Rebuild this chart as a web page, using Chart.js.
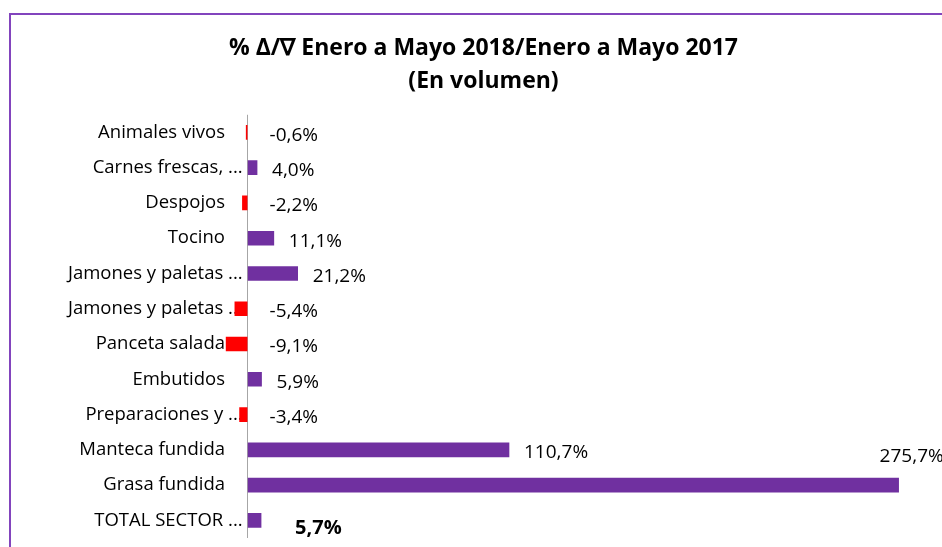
<!DOCTYPE html>
<html lang="es">
<head>
    <meta charset="UTF-8">
    <title>% Enero a Mayo 2018/Enero a Mayo 2017</title>
    <script src="https://cdn.jsdelivr.net/npm/chart.js"></script>
    <style>
        html, body {
            margin: 0;
            padding: 0;
            background: #fff;
            overflow: hidden;
            width: 942px;
            height: 547px;
        }
        .frame {
            position: absolute;
            left: 9px;
            top: 13px;
            border-left: 2px solid #8244bd;
            border-top: 2px solid #8244bd;
            width: 1000px;
            height: 600px;
        }
        canvas {
            display: block;
        }
    </style>
</head>
<body>
    <div class="frame">
        <canvas id="chart" width="960" height="560"></canvas>
    </div>

    <script>
        // categorias y variacion % (volumen)
        const categories = [
            'Animales vivos',
            'Carnes frescas, ...',
            'Despojos',
            'Tocino',
            'Jamones y paletas ...',
            'Jamones y paletas ...',
            'Panceta salada',
            'Embutidos',
            'Preparaciones y ...',
            'Manteca fundida',
            'Grasa fundida',
            'TOTAL SECTOR ...'
        ];
        const variation = [-0.6, 4.0, -2.2, 11.1, 21.2, -5.4, -9.1, 5.9, -3.4, 110.7, 275.7, 5.7];
        const xRange = [-10, 300];

        const PURPLE = '#7030a0';
        const RED = '#ff0000';
        const FONT = '"Open Sans", "Noto Sans", sans-serif';

        const fmt = v => v.toFixed(1).replace('.', ',') + '%';

        // nombres de categoria (debajo de las barras, como en Excel);
        // los truncados con "..." llegan hasta el eje
        const categoryText = {
            id: 'categoryText',
            beforeDatasetsDraw(chart) {
                const ctx = chart.ctx;
                const meta = chart.getDatasetMeta(0);
                const zero = chart.scales.x.getPixelForValue(0);
                const left = chart.chartArea.left;
                ctx.save();
                ctx.fillStyle = '#000';
                ctx.textBaseline = 'middle';
                ctx.textAlign = 'right';
                ctx.font = '18.5px ' + FONT;
                meta.data.forEach((bar, i) => {
                    const x = categories[i].endsWith('...') ? zero - 5 : left + 1;
                    ctx.fillText(categories[i], x, bar.y);
                });
                ctx.restore();
            }
        };

        // etiquetas de datos
        const valueText = {
            id: 'valueText',
            afterDatasetsDraw(chart) {
                const ctx = chart.ctx;
                const meta = chart.getDatasetMeta(0);
                const zero = chart.scales.x.getPixelForValue(0);
                const last = variation.length - 1;
                ctx.save();
                ctx.fillStyle = '#000';
                ctx.textBaseline = 'middle';
                ctx.textAlign = 'left';
                meta.data.forEach((bar, i) => {
                    const v = variation[i];
                    let x = v < 0 ? zero + 22 : bar.x + 15;
                    let y = bar.y + 3;
                    ctx.font = '19px ' + FONT;
                    if (i === last) {
                        ctx.font = 'bold 20px ' + FONT;
                        x = bar.x + 34;
                        y = bar.y + 8;
                    }
                    if (x + ctx.measureText(fmt(v)).width > 931) {
                        x = bar.x - 19;
                        y = bar.y - 29;
                    }
                    ctx.fillText(fmt(v), x, y);
                });
                ctx.restore();
            }
        };

        new Chart(document.getElementById('chart').getContext('2d'), {
            type: 'bar',
            data: {
                labels: categories,
                datasets: [{
                    data: variation,
                    backgroundColor: variation.map(v => v < 0 ? RED : PURPLE),
                    barThickness: 14,
                    borderWidth: 0
                }]
            },
            options: {
                indexAxis: 'y',
                responsive: false,
                animation: false,
                layout: { padding: { left: 0, right: 15, top: 0, bottom: 37 } },
                plugins: {
                    legend: { display: false },
                    tooltip: { enabled: false },
                    title: {
                        display: true,
                        text: ['% \u0394/\u2207 Enero a Mayo 2018/Enero a Mayo 2017', '(En volumen)'],
                        color: '#000',
                        font: { family: FONT, size: 23, weight: 'bold', lineHeight: 1.43 },
                        padding: { top: 17, bottom: 17 }
                    }
                },
                scales: {
                    x: {
                        min: xRange[0],
                        max: xRange[1],
                        afterBuildTicks: s => { s.ticks = [{ value: 0 }]; },
                        ticks: { display: false },
                        border: { display: false },
                        grid: { color: '#a6a6a6', drawTicks: false, lineWidth: 1 }
                    },
                    y: {
                        afterFit: s => { s.width = 213; },
                        grid: { display: false, drawTicks: false },
                        border: { display: false },
                        ticks: { display: false }
                    }
                }
            },
            plugins: [categoryText, valueText]
        });
    </script>
</body>
</html>
